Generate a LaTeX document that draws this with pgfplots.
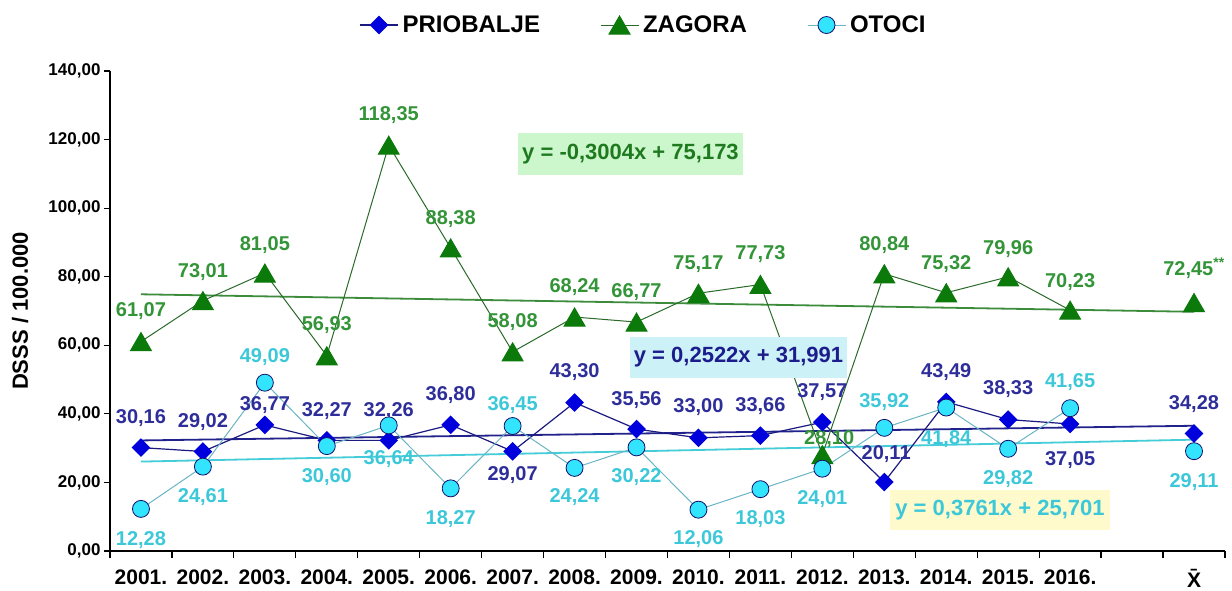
\documentclass[border=0pt]{standalone}
\usepackage{fontspec}
\setmainfont{Liberation Sans}
\usepackage{pgfplots}
\pgfplotsset{compat=1.18}
\definecolor{pbMark}{HTML}{0000DD}
\definecolor{pbLine}{HTML}{1A1A80}
\definecolor{pbText}{HTML}{2E2E9A}
\definecolor{pbEq}{HTML}{1C1C8C}
\definecolor{zgMark}{HTML}{0B7A0B}
\definecolor{zgLine}{HTML}{2A6A2A}
\definecolor{zgText}{HTML}{339438}
\definecolor{zgEq}{HTML}{1F7A1F}
\definecolor{otMark}{HTML}{33E4FF}
\definecolor{otEdge}{HTML}{10106A}
\definecolor{otLine}{HTML}{6AB4C4}
\definecolor{otText}{HTML}{3CC8D8}
\definecolor{zgTrend}{HTML}{3C8C3C}
\definecolor{pbTrend}{HTML}{22228C}
\definecolor{otTrend}{HTML}{44CCD8}
\definecolor{boxG}{HTML}{CCF7CC}
\definecolor{boxB}{HTML}{CCF2F8}
\definecolor{boxY}{HTML}{FFFACC}
\tikzset{lbl/.style={font=\fontsize{20}{24}\selectfont\bfseries, inner sep=0pt, text height=14.4pt, text depth=0pt, anchor=center}}
\newcommand{\lab}[4]{\node[lbl,text=#1] at (axis cs:#2,#3) {#4};}
\begin{document}
\begin{tikzpicture}
\useasboundingbox (0,0) rectangle (1232pt,590pt);
\begin{axis}[
  at={(110pt,39pt)}, anchor=south west,
  scale only axis, width=1115pt, height=480pt,
  xmin=0.5, xmax=18.5, ymin=0, ymax=140,
  clip=false,
  axis lines=left, axis line style={-, line width=1.2pt, black},
  tick align=outside,
  xtick={1,...,16,18},
  xticklabels={2001.,2002.,2003.,2004.,2005.,2006.,2007.,2008.,2009.,2010.,2011.,2012.,2013.,2014.,2015.,2016.,\={X}},
  major x tick style={draw=none},
  minor xtick={0.5,1.5,...,18.5},
  minor x tick style={line width=1.2pt, black},
  ytick={0,20,...,140},
  y tick style={line width=1.2pt, black},
  major tick length=6pt, minor tick length=7pt,
  xticklabel style={font=\fontsize{21}{24}\selectfont\bfseries, yshift=-9pt},
  yticklabel style={font=\fontsize{17}{20}\selectfont\bfseries,
    /pgf/number format/fixed, /pgf/number format/fixed zerofill,
    /pgf/number format/precision=2, /pgf/number format/use comma,
    /pgf/number format/assume math mode=true},
  ylabel={DSSS / 100.000},
  ylabel style={at={(axis description cs:-0.0807,0.5)}, anchor=center, font=\fontsize{22}{26}\selectfont\bfseries},
  unbounded coords=jump,
  legend style={at={(axis description cs:0.4776,1.0958)}, anchor=center, draw=none, fill=none,
    legend columns=3, font=\fontsize{24}{28}\selectfont\bfseries,
    column sep=0pt, nodes={inner sep=0pt}},
  legend cell align=left,
  legend image code/.code={\draw[mark repeat=2,mark phase=2] plot coordinates {(0pt,0pt) (19pt,0pt) (38pt,0pt)};},
]
% trend lines
\addplot[zgTrend, line width=1.8pt, forget plot] coordinates {(1,74.8726) (18,69.7658)};
\addplot[pbTrend, line width=1.8pt, forget plot] coordinates {(1,32.2432) (18,36.5306)};
\addplot[otTrend, line width=1.8pt, forget plot] coordinates {(1,26.0771) (18,32.4708)};
% series
\addplot[pbLine, line width=1.2pt, mark=square*, mark size=6pt,
  mark options={solid, rotate=45, fill=pbMark, draw=pbMark}] coordinates {
(1,30.16)(2,29.02)(3,36.77)(4,32.27)(5,32.26)(6,36.80)(7,29.07)(8,43.30)(9,35.56)(10,33.00)(11,33.66)(12,37.57)(13,20.11)(14,43.49)(15,38.33)(16,37.05)(17,nan)(18,34.28)};
\addlegendentry{\hspace*{4pt}PRIOBALJE\hspace*{60pt}}
\addplot[zgLine, line width=1pt, mark=triangle*, mark size=12pt,
  mark options={solid, yshift=-3pt, fill=zgMark, draw=zgMark}] coordinates {
(1,61.07)(2,73.01)(3,81.05)(4,56.93)(5,118.35)(6,88.38)(7,58.08)(8,68.24)(9,66.77)(10,75.17)(11,77.73)(12,28.10)(13,80.84)(14,75.32)(15,79.96)(16,70.23)(17,nan)(18,72.45)};
\addlegendentry{\hspace*{4pt}ZAGORA\hspace*{60pt}}
\addplot[otLine, line width=1pt, mark=*, mark size=8.5pt,
  mark options={solid, fill=otMark, draw=otEdge, line width=0.8pt}] coordinates {
(1,12.28)(2,24.61)(3,49.09)(4,30.60)(5,36.64)(6,18.27)(7,36.45)(8,24.24)(9,30.22)(10,12.06)(11,18.03)(12,24.01)(13,35.92)(14,41.84)(15,29.82)(16,41.65)(17,nan)(18,29.11)};
\addlegendentry{\hspace*{4pt}OTOCI}
% labels ZAGORA
\lab{zgText}{1}{70.58}{61,07}
\lab{zgText}{2}{81.96}{73,01}
\lab{zgText}{3}{89.83}{81,05}
\lab{zgText}{4}{66.50}{56,93}
\lab{zgText}{5}{127.75}{118,35}
\lab{zgText}{6}{97.42}{88,38}
\lab{zgText}{7}{67.38}{58,08}
\lab{zgText}{8}{77.58}{68,24}
\lab{zgText}{9}{76.13}{66,77}
\lab{zgText}{10}{84.29}{75,17}
\lab{zgText}{11}{87.21}{77,73}
\lab{zgText}{12.11}{33.25}{28,10}
\lab{zgText}{13}{89.83}{80,84}
\lab{zgText}{14}{84.29}{75,32}
\lab{zgText}{15}{88.67}{79,96}
\lab{zgText}{16}{79.04}{70,23}
\lab{zgText}{18}{82.54}{72,45\textsuperscript{**}}
% labels PRIOBALJE
\lab{pbText}{1}{39.38}{30,16}
\lab{pbText}{2}{38.21}{29,02}
\lab{pbText}{3}{43.17}{36,77}
\lab{pbText}{4}{41.42}{32,27}
\lab{pbText}{5}{41.42}{32,26}
\lab{pbText}{6}{46.08}{36,80}
\lab{pbText}{7}{22.75}{29,07}
\lab{pbText}{8}{52.79}{43,30}
\lab{pbText}{9}{44.63}{35,56}
\lab{pbText}{10}{42.58}{33,00}
\lab{pbText}{11}{42.88}{33,66}
\lab{pbText}{12}{46.96}{37,57}
\lab{pbText}{13.03}{28.88}{20,11}
\lab{pbText}{14}{52.79}{43,49}
\lab{pbText}{15}{47.83}{38,33}
\lab{pbText}{16}{27.13}{37,05}
\lab{pbText}{18}{43.46}{34,28}
% labels OTOCI
\lab{otText}{1}{3.79}{12,28}
\lab{otText}{2}{16.33}{24,61}
\lab{otText}{3}{57.17}{49,09}
\lab{otText}{4}{22.17}{30,60}
\lab{otText}{5}{27.42}{36,64}
\lab{otText}{6}{9.92}{18,27}
\lab{otText}{7}{43.17}{36,45}
\lab{otText}{8}{16.33}{24,24}
\lab{otText}{9}{22.17}{30,22}
\lab{otText}{10}{4.08}{12,06}
\lab{otText}{11}{9.92}{18,03}
\lab{otText}{12}{15.75}{24,01}
\lab{otText}{13}{44.04}{35,92}
\lab{otText}{14}{33.25}{41,84}
\lab{otText}{15}{21.58}{29,82}
\lab{otText}{16}{49.88}{41,65}
\lab{otText}{18}{20.71}{29,11}
\end{axis}
% equation boxes
\node[fill=boxG, minimum width=225pt, minimum height=42pt, inner sep=0pt, text=zgEq, font=\fontsize{22}{26}\selectfont\bfseries] at (630.5pt,436pt) {y = -0,3004x + 75,173};
\node[fill=boxB, minimum width=217pt, minimum height=41pt, inner sep=0pt, text=pbEq, font=\fontsize{22}{26}\selectfont\bfseries] at (738.5pt,232.5pt) {y = 0,2522x + 31,991};
\node[fill=boxY, minimum width=220pt, minimum height=40pt, inner sep=0pt, text=otText, font=\fontsize{22}{26}\selectfont\bfseries] at (1000pt,80pt) {y = 0,3761x + 25,701};
\end{tikzpicture}
\end{document}
